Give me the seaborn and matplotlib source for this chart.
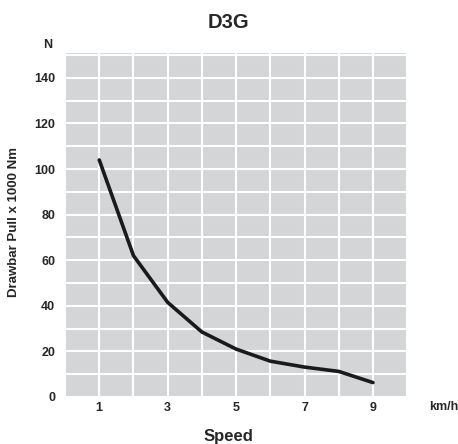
import numpy as np
import pandas as pd
import seaborn as sns
import matplotlib.pyplot as plt
from matplotlib.ticker import MultipleLocator

speed = [1, 2, 3, 4, 5, 6, 7, 8, 9]
pull = [104, 62, 41.5, 28.5, 21, 15.7, 13.1, 11.2, 6.3]
x_ticks = [1, 3, 5, 7, 9]
y_ticks = [0, 20, 40, 60, 80, 100, 120, 140]

sns.set_style('white')
plt.rcParams['font.family'] = ['Liberation Sans Narrow', 'Liberation Sans', 'DejaVu Sans']
plt.rcParams['font.weight'] = 'bold'

df = pd.DataFrame({'speed': speed, 'pull': pull})

fig = plt.figure(figsize=(4.58, 4.44), dpi=100)
ax = fig.add_axes([0.142, 0.106, 0.747, 0.775])
ax.set_facecolor('#d4d5d7')

sns.lineplot(data=df, x='speed', y='pull', ax=ax, color='#1a1a1a', linewidth=2.6, zorder=3)

ax.set_xlim(0, 10)
ax.set_ylim(0, 151)
ax.set_xticks(x_ticks)
ax.set_yticks(y_ticks)
ax.xaxis.set_minor_locator(MultipleLocator(1))
ax.yaxis.set_minor_locator(MultipleLocator(10))
ax.grid(which='both', color='white', linewidth=1.5)
ax.set_axisbelow(True)
ax.tick_params(which='both', length=0, labelsize=9)
ax.tick_params(axis='x', pad=4)
ax.tick_params(axis='y', pad=7)
for lab in ax.get_xticklabels() + ax.get_yticklabels():
    lab.set_fontweight('bold')
for s in ax.spines.values():
    s.set_visible(False)

ax.set_xlabel('')
ax.set_ylabel('')
fig.text(0.498, 0.95, 'D3G', ha='center', va='center', fontsize=14.5, fontweight='bold')
fig.text(0.498, 0.018, 'Speed', ha='center', va='center', fontsize=12, fontweight='bold')
fig.text(0.03, 0.5, 'Drawbar Pull x 1000 Nm', rotation=90, ha='center', va='center',
         fontsize=9.5, fontweight='bold')
fig.text(0.105, 0.898, 'N', ha='center', va='center', fontsize=9, fontweight='bold')
fig.text(0.937, 0.083, 'km/h', ha='left', va='center', fontsize=9, fontweight='bold')

fig.savefig('out.png', dpi=100)
